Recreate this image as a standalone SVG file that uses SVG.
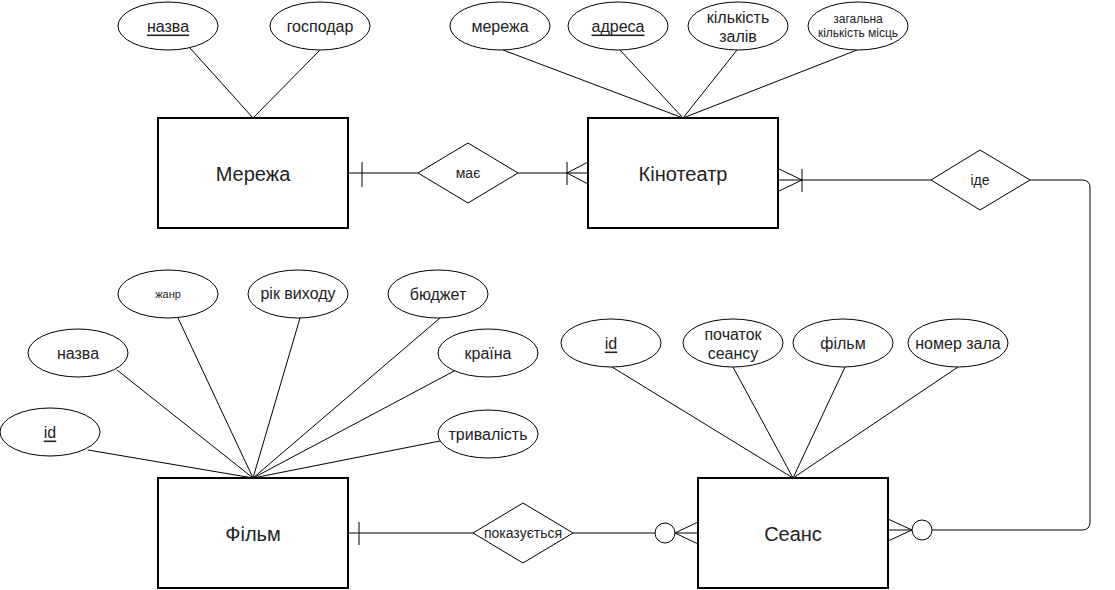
<svg xmlns="http://www.w3.org/2000/svg" width="1115" height="590" viewBox="0 0 1115 590">
<style>
.ent{fill:#fff;stroke:#000;stroke-width:2}
.att{fill:#fff;stroke:#000;stroke-width:1}
.rel{fill:#fff;stroke:#000;stroke-width:1}
.ln{fill:none;stroke:#000;stroke-width:1}
.t{font-family:"Liberation Sans",Arial,sans-serif;fill:#222;text-anchor:middle;dominant-baseline:central}
.te{font-size:20px}
.ta{font-size:16px}
.tr{font-size:14px}
.u{text-decoration:underline}
</style>
<rect width="1115" height="590" fill="#fff"/>
<g id="connectors">
  <path class="ln" d="M190,48 L253,118 M320,50 L253,118"/>
  <path class="ln" d="M503,50 L683,118 M620,50 L683,118 M737,50 L683,118 M857,50 L683,118"/>
  <path class="ln" d="M178,318 L253,478 M300,318 L253,478 M440,318 L253,478 M117,370 L253,478 M456,370 L253,478 M88,450 L253,478 M440,441 L253,478"/>
  <path class="ln" d="M612,367 L793,478 M733,367 L793,478 M845,367 L793,478 M958,367 L793,478"/>
  <!-- має -->
  <path class="ln" d="M349,173 L418,173 M518,173 L588,173"/>
  <path class="ln" d="M362,162 L362,187"/>
  <path class="ln" d="M567,162 L567,185 M567,173 L588,162 M567,173 L588,184"/>
  <!-- іде -->
  <path class="ln" d="M779,180 L931,180 M1030,180 L1082,180 Q1090,180 1090,188 L1090,522 Q1090,530 1082,530 L932,530"/>
  <path class="ln" d="M802,169 L802,192 M802,180 L779,169 M802,180 L779,191"/>
  <circle class="att" cx="922" cy="530" r="10"/>
  <path class="ln" d="M912,530 L888,530 M912,530 L888,519 M912,530 L888,541"/>
  <!-- показується -->
  <path class="ln" d="M349,533 L473,533 M573,533 L655,533"/>
  <path class="ln" d="M359,522 L359,545"/>
  <circle class="att" cx="665" cy="533" r="10"/>
  <path class="ln" d="M675,533 L698,533 M675,533 L698,522 M675,533 L698,544"/>
</g>
<g id="merezha"><rect class="ent" x="158" y="118" width="190" height="110"/><text class="t te" x="253" y="174">Мережа</text></g>
<g id="kinoteatr"><rect class="ent" x="588" y="118" width="190" height="110"/><text class="t te" x="683" y="174">Кінотеатр</text></g>
<g id="film"><rect class="ent" x="158" y="478" width="190" height="110"/><text class="t te" x="253" y="534">Фільм</text></g>
<g id="seans"><rect class="ent" x="698" y="478" width="190" height="110"/><text class="t te" x="793" y="534">Сеанс</text></g>

<g id="rel-mae"><polygon class="rel" points="418,173 468,143 518,173 468,203"/><text class="t tr" x="468" y="173">має</text></g>
<g id="rel-ide"><polygon class="rel" points="931,180 980,150 1030,180 980,210"/><text class="t tr" x="980" y="180">іде</text></g>
<g id="rel-pokaz"><polygon class="rel" points="473,533 523,503 573,533 523,563"/><text class="t tr" x="523" y="533">показується</text></g>

<g id="a-nazva"><ellipse class="att" cx="168" cy="26" rx="50" ry="24"/><text class="t ta u" x="168" y="26">назва</text></g>
<g id="a-hospodar"><ellipse class="att" cx="320" cy="26" rx="50" ry="24"/><text class="t ta" x="320" y="26">господар</text></g>

<g id="a-merezha"><ellipse class="att" cx="500" cy="26" rx="50" ry="24"/><text class="t ta" x="500" y="26">мережа</text></g>
<g id="a-adresa"><ellipse class="att" cx="618" cy="26" rx="50" ry="24"/><text class="t ta u" x="618" y="26">адреса</text></g>
<g id="a-kilkist"><ellipse class="att" cx="738" cy="26" rx="50" ry="24"/><text class="t ta" x="738" y="17">кількість</text><text class="t ta" x="738" y="36">залів</text></g>
<g id="a-zahalna"><ellipse class="att" cx="858" cy="26" rx="50" ry="24"/><text class="t" style="font-size:12px" x="858" y="19">загальна</text><text class="t" style="font-size:12px" x="858" y="33">кількість місць</text></g>

<g id="a-zhanr"><ellipse class="att" cx="168" cy="294" rx="50" ry="24"/><text class="t" style="font-size:11px" x="168" y="294">жанр</text></g>
<g id="a-rik"><ellipse class="att" cx="298" cy="294" rx="50" ry="24"/><text class="t ta" x="298" y="293">рік виходу</text></g>
<g id="a-biudzhet"><ellipse class="att" cx="438" cy="294" rx="50" ry="24"/><text class="t ta" x="438" y="294">бюджет</text></g>
<g id="a-fnazva"><ellipse class="att" cx="78" cy="353" rx="50" ry="24"/><text class="t ta" x="78" y="353">назва</text></g>
<g id="a-kraina"><ellipse class="att" cx="488" cy="353" rx="50" ry="24"/><text class="t ta" x="488" y="353">країна</text></g>
<g id="a-fid"><ellipse class="att" cx="50" cy="432" rx="50" ry="24"/><text class="t ta u" x="50" y="432">id</text></g>
<g id="a-tryvalist"><ellipse class="att" cx="488" cy="434" rx="50" ry="24"/><text class="t ta" x="488" y="434">тривалість</text></g>

<g id="a-sid"><ellipse class="att" cx="611" cy="343" rx="50" ry="24"/><text class="t ta u" x="611" y="343">id</text></g>
<g id="a-pochatok"><ellipse class="att" cx="733" cy="343" rx="50" ry="24"/><text class="t ta" x="733" y="334">початок</text><text class="t ta" x="733" y="353">сеансу</text></g>
<g id="a-film"><ellipse class="att" cx="843" cy="343" rx="50" ry="24"/><text class="t ta" x="843" y="343">фільм</text></g>
<g id="a-nomer"><ellipse class="att" cx="958" cy="343" rx="50" ry="24"/><text class="t ta" x="958" y="343">номер зала</text></g>
</svg>
